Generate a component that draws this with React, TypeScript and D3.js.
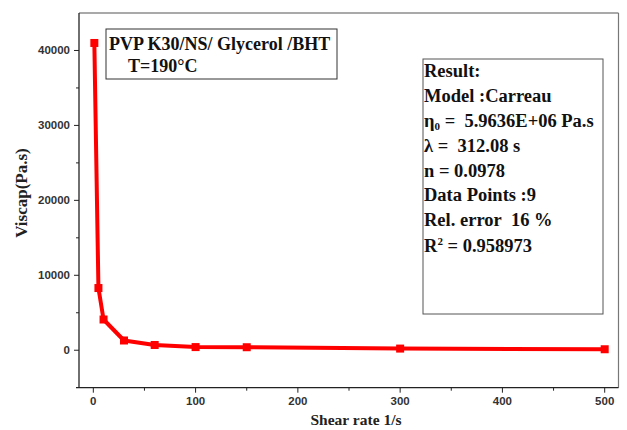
import React from "react";
import * as d3 from "d3";

const shearRate = [1, 5, 10, 30, 60, 100, 150, 300, 500];
const viscosity = [41000, 8300, 4100, 1300, 700, 420, 400, 220, 130];
const xTicks = [0, 100, 200, 300, 400, 500];
const xMinor = [50, 150, 250, 350, 450];
const yTicks = [0, 10000, 20000, 30000, 40000];
const yMinor = [5000, 15000, 25000, 35000];
const titleLines = ["PVP K30/NS/ Glycerol /BHT", "T=190°C"];

const W = 627;
const H = 430;
const L = 79, R = 618.5, T = 13, B = 387.7;
const NB = "\u00a0";

export default function App() {
  const x = d3.scaleLinear().domain([-14, 513.5]).range([L, R]);
  const y = d3.scaleLinear().domain([-5000, 45000]).range([B, T]);
  const pts = shearRate.map((s, i) => [s, viscosity[i]] as [number, number]);
  const line = d3.line<[number, number]>().x(d => x(d[0])).y(d => y(d[1]));
  const serif = "'Liberation Serif', 'Times New Roman', serif";
  const sans = "'Liberation Sans', Arial, sans-serif";
  const rx = 424;
  const rBase = [77, 102, 127, 152, 176.5, 201, 226, 252];
  const rfs = 18.5;
  return (
    <div style={{ position: "absolute", left: 0, top: 0 }}>
      <svg width={W} height={H} style={{ display: "block", background: "#fff" }}>
        {/* frame */}
        <line x1={L} x2={R} y1={T} y2={T} stroke="#555" strokeWidth={1.2} />
        <line x1={R} x2={R} y1={T} y2={B} stroke="#777" strokeWidth={1.2} />
        <line x1={L} x2={L} y1={T} y2={B} stroke="#222" strokeWidth={1.3} />
        <line x1={L - 3} x2={R} y1={B} y2={B} stroke="#222" strokeWidth={1.3} />
        {xTicks.map(t => (
          <g key={"xt" + t}>
            <line x1={x(t)} x2={x(t)} y1={B} y2={B + 5} stroke="#222" strokeWidth={1} />
            <text x={x(t)} y={405} textAnchor="middle" fontFamily={sans} fontWeight="bold" fontSize={11.5} fill="#333">{t}</text>
          </g>
        ))}
        {xMinor.map(t => (
          <line key={"xm" + t} x1={x(t)} x2={x(t)} y1={B} y2={B + 3} stroke="#222" strokeWidth={1} />
        ))}
        {yTicks.map(t => (
          <g key={"yt" + t}>
            <line x1={L - 5} x2={L} y1={y(t)} y2={y(t)} stroke="#222" strokeWidth={1} />
            <text x={70} y={y(t) + 4} textAnchor="end" fontFamily={sans} fontWeight="bold" fontSize={11.5} fill="#333">{t}</text>
          </g>
        ))}
        {yMinor.map(t => (
          <line key={"ym" + t} x1={L - 3} x2={L} y1={y(t)} y2={y(t)} stroke="#222" strokeWidth={1} />
        ))}
        {/* axis titles */}
        <text x={356} y={425} textAnchor="middle" fontFamily={serif} fontWeight="bold" fontSize={15.5} fill="#222">Shear rate 1/s</text>
        <text transform={`translate(27,193) rotate(-90)`} textAnchor="middle" fontFamily={serif} fontWeight="bold" fontSize={17} fill="#222">Viscap(Pa.s)</text>
        {/* data */}
        <path d={line(pts) || ""} fill="none" stroke="#ff0000" strokeWidth={4} strokeLinejoin="round" />
        {pts.map((p, i) => (
          <rect key={i} x={x(p[0]) - 4} y={y(p[1]) - 4} width={8} height={8} fill="#ff0000" />
        ))}
        {/* title box */}
        <rect x={106} y={29} width={231} height={50} fill="#fff" stroke="#333" strokeWidth={1} />
        <text x={109} y={50} fontFamily={serif} fontWeight="bold" fontSize={18} fill="#111">{titleLines[0]}</text>
        <text x={128} y={72} fontFamily={serif} fontWeight="bold" fontSize={18} fill="#111">{titleLines[1]}</text>
        {/* result box */}
        <rect x={423} y={59} width={180} height={255} fill="#fff" stroke="#555" strokeWidth={1} />
        <g fontFamily={serif} fontWeight="bold" fontSize={rfs} fill="#111">
          <text x={rx} y={rBase[0]}>Result:</text>
          <text x={rx} y={rBase[1]}>Model :Carreau</text>
          <text x={rx} y={rBase[2]}>η<tspan fontSize={11} dy={3}>0</tspan><tspan dy={-3}>{` =${NB}${NB}5.9636E+06 Pa.s`}</tspan></text>
          <text x={rx} y={rBase[3]}>{`λ =${NB}${NB}312.08 s`}</text>
          <text x={rx} y={rBase[4]}>n = 0.0978</text>
          <text x={rx} y={rBase[5]}>Data Points :9</text>
          <text x={rx} y={rBase[6]}>{`Rel. error${NB}${NB}16 %`}</text>
          <text x={rx} y={rBase[7]}>R<tspan fontSize={11} dy={-7}>2</tspan><tspan dy={7}> = 0.958973</tspan></text>
        </g>
      </svg>
    </div>
  );
}
